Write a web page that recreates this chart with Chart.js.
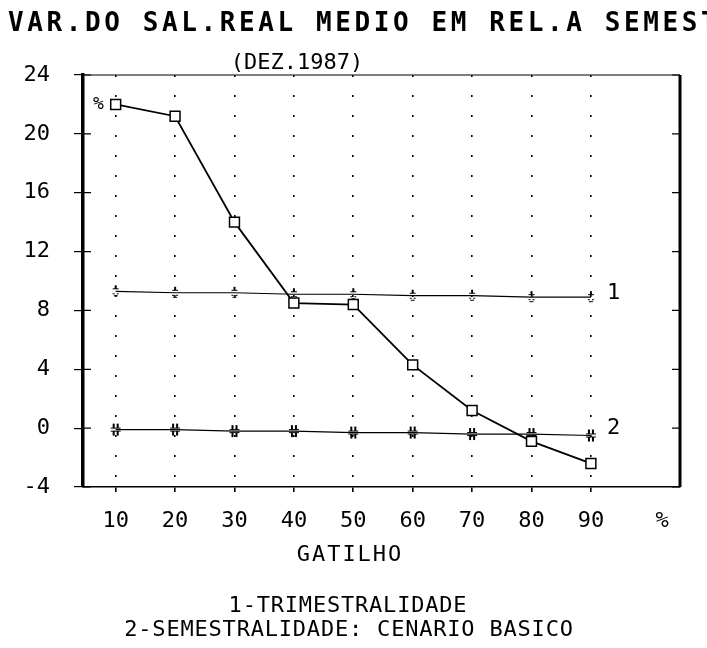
<!DOCTYPE html>
<html>
<head>
<meta charset="utf-8">
<script src="https://cdn.jsdelivr.net/npm/chart.js@4.4.1/dist/chart.umd.min.js"></script>
<style>
  html, body { margin: 0; padding: 0; background: #fff; }
  #wrap { width: 707px; height: 648px; }
</style>
</head>
<body>
<div id="wrap"><canvas id="grafico" width="707" height="648"></canvas></div>
<script>
// Dados
const gatilho = [10, 20, 30, 40, 50, 60, 70, 80, 90];
const salarioReal = [22.0, 21.2, 14.0, 8.5, 8.4, 4.3, 1.2, -0.9, -2.4];
const trimestralidade = [9.3, 9.2, 9.2, 9.1, 9.1, 9.0, 9.0, 8.9, 8.9];
const semestralidade = [-0.1, -0.1, -0.2, -0.2, -0.3, -0.3, -0.4, -0.4, -0.5];
const ticksY = [-4, 0, 4, 8, 12, 16, 20, 24];
const ticksX = [10, 20, 30, 40, 50, 60, 70, 80, 90];
const posPercentX = 102;

const titulo = 'VAR.DO SAL.REAL MEDIO EM REL.A SEMEST';
const subtitulo = '(DEZ.1987)';
const tituloX = 'GATILHO';
const legenda = ['1-TRIMESTRALIDADE', '2-SEMESTRALIDADE: CENARIO BASICO'];

const FONTE = '"DejaVu Sans Mono", "Liberation Mono", monospace';

// marcadores pequenos desenhados num canvas
function marcador(tipo) {
    const c = document.createElement('canvas');
    c.width = 12; c.height = 14;
    const g = c.getContext('2d');
    g.fillStyle = '#000';
    if (tipo === 1) {
        g.fillRect(5, 1, 2, 3);
        g.fillRect(3, 4, 6, 1);
        g.fillRect(3, 9, 2, 1); g.fillRect(7, 9, 2, 1);
        g.fillRect(4, 11, 4, 1);
    } else {
        g.fillRect(3, 1, 2, 4); g.fillRect(7, 1, 2, 4);
        g.fillRect(1, 5, 10, 1);
        g.fillRect(1, 8, 10, 1);
        g.fillRect(3, 9, 2, 4); g.fillRect(7, 9, 2, 4);
    }
    return c;
}

const extras = {
    id: 'extras',
    afterDraw(chart) {
        const ctx = chart.ctx;
        const a = chart.chartArea;
        const xs = chart.scales.x;
        const ys = chart.scales.y;
        ctx.save();
        ctx.strokeStyle = '#000';
        ctx.fillStyle = '#000';

        // moldura: topo fino, direita grossa
        ctx.lineWidth = 1.2;
        ctx.beginPath();
        ctx.moveTo(a.left, a.top);
        ctx.lineTo(a.right, a.top);
        ctx.stroke();
        ctx.lineWidth = 3;
        ctx.beginPath();
        ctx.moveTo(a.right, a.top);
        ctx.lineTo(a.right, a.bottom);
        ctx.stroke();

        // marcas para dentro nos eixos verticais
        ctx.lineWidth = 1.2;
        ticksY.forEach(v => {
            const py = ys.getPixelForValue(v);
            ctx.beginPath();
            ctx.moveTo(a.left, py); ctx.lineTo(a.left + 8, py);
            ctx.moveTo(a.right, py); ctx.lineTo(a.right - 8, py);
            ctx.stroke();
        });

        // textos
        ctx.textBaseline = 'alphabetic';
        ctx.textAlign = 'left';
        ctx.font = 'bold 26px ' + FONTE;
        ctx.letterSpacing = '3.6px';
        ctx.fillText(titulo, 8, 31);

        ctx.textAlign = 'center';
        ctx.font = '22px ' + FONTE;
        ctx.letterSpacing = '0px';
        ctx.fillText(subtitulo, 297, 69);

        ctx.font = '22px ' + FONTE;
        ctx.letterSpacing = '2px';
        ctx.fillText(tituloX, 350, 561);

        ctx.letterSpacing = '0.8px';
        ctx.fillText(legenda[0], 348, 612);
        ctx.fillText(legenda[1], 349, 636);

        // etiquetas das séries e símbolo %
        ctx.letterSpacing = '0px';
        ctx.textAlign = 'left';
        ctx.font = '22px ' + FONTE;
        const ult = gatilho.length - 1;
        const px90 = xs.getPixelForValue(gatilho[ult]);
        ctx.fillText('1', px90 + 16, ys.getPixelForValue(trimestralidade[ult]) + 2);
        ctx.fillText('2', px90 + 16, ys.getPixelForValue(semestralidade[ult]) - 2);
        ctx.font = '18px ' + FONTE;
        ctx.fillText('%', a.left + 10, ys.getPixelForValue(salarioReal[0]) + 5);
        ctx.restore();
    }
};

new Chart(document.getElementById('grafico'), {
    type: 'line',
    data: {
        datasets: [{
            label: 'Salário real',
            data: gatilho.map((g, i) => ({ x: g, y: salarioReal[i] })),
            borderColor: '#000',
            borderWidth: 1.8,
            pointStyle: 'rect',
            pointRadius: 7,
            pointBorderWidth: 1.5,
            pointBackgroundColor: '#fff',
            pointBorderColor: '#000',
            tension: 0
        }, {
            label: legenda[0],
            data: gatilho.map((g, i) => ({ x: g, y: trimestralidade[i] })),
            borderColor: '#000',
            borderWidth: 1.2,
            pointStyle: marcador(1),
            tension: 0
        }, {
            label: legenda[1],
            data: gatilho.map((g, i) => ({ x: g, y: semestralidade[i] })),
            borderColor: '#000',
            borderWidth: 1.2,
            pointStyle: marcador(2),
            tension: 0
        }]
    },
    options: {
        responsive: false,
        animation: false,
        devicePixelRatio: 1,
        layout: { padding: { top: 75, right: 27, left: 0, bottom: 0 } },
        plugins: {
            legend: { display: false },
            title: { display: false },
            tooltip: { enabled: false }
        },
        scales: {
            x: {
                type: 'linear',
                min: 4.5,
                max: 105,
                afterFit: s => { s.height = 161; },
                afterBuildTicks: s => {
                    s.ticks = ticksX.concat([posPercentX]).map(v => ({ value: v }));
                },
                ticks: {
                    color: '#000',
                    padding: 16,
                    maxRotation: 0,
                    autoSkip: false,
                    font: { family: FONTE, size: 22 },
                    callback: v => (v === posPercentX ? '%' : String(v))
                },
                grid: {
                    color: c => (c.tick && c.tick.value === posPercentX ? 'rgba(0,0,0,0)' : '#000'),
                    lineWidth: 1.6,
                    tickLength: 5,
                    drawOnChartArea: true
                },
                border: { display: true, color: '#000', width: 1.5, dash: [2, 18] }
            },
            y: {
                min: -4,
                max: 24,
                afterFit: s => { s.width = 83; },
                afterBuildTicks: s => {
                    s.ticks = ticksY.map(v => ({ value: v }));
                },
                ticks: {
                    color: '#000',
                    padding: 24,
                    font: { family: FONTE, size: 22 }
                },
                grid: {
                    color: '#000',
                    drawOnChartArea: false,
                    tickLength: 9,
                    lineWidth: 1.2
                },
                border: { display: true, color: '#000', width: 3.5 }
            }
        }
    },
    plugins: [extras]
});
</script>
</body>
</html>
